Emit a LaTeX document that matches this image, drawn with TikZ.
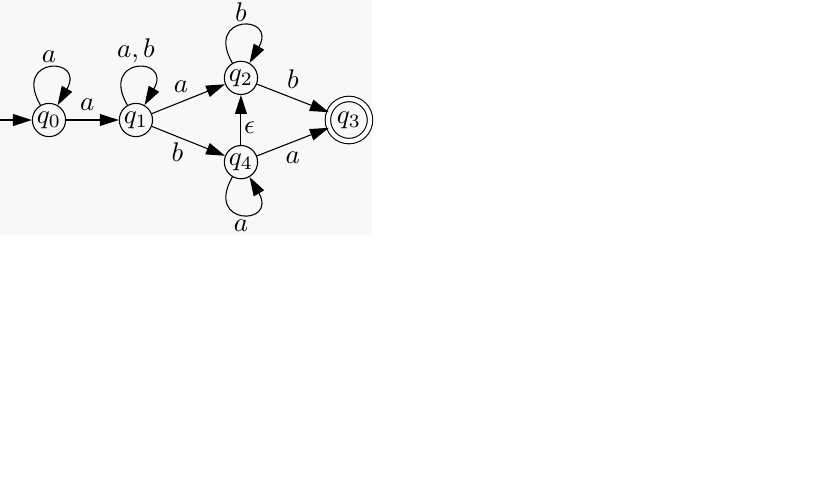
\documentclass[tikz,border=0pt]{standalone}
\usepackage{tikz}
\usetikzlibrary{arrows,arrows.meta,positioning,shapes,calc,backgrounds}
\usepackage{amsmath,amssymb}
\usepackage{xcolor}
\definecolor{panelgray}{HTML}{F8F8F8}

\begin{document}
\begin{tikzpicture}[x=0.3704pt,y=-0.3704pt,on grid,
    >={Triangle[length=7pt,width=4.4pt]},
    state/.style={draw,circle,minimum size=11.5pt,inner sep=0.5pt},
    accept/.style={draw,circle,double,double distance=1.6pt,minimum size=15.6pt,inner sep=0.5pt},
    selfloop/.style={looseness=1,min distance=21pt}]
    \fill[white] (0,0) rectangle (821,486);
    \fill[panelgray] (0,0) rectangle (372,235);
    \useasboundingbox (0,0) rectangle (821,486);
    \node[state] (q0) at (49,120) {$q_0$};
    \node[state,right=32.2pt of q0] (q1) {$q_1$};
    \node[state,above right=15.6pt and 38.9pt of q1] (q2) {$q_2$};
    \node[state,below right=15.6pt and 38.9pt of q1] (q4) {$q_4$};
    \node[accept,right=78.9pt of q1] (q3) {$q_3$};
    \coordinate (start) at (0,120);
    \draw[->] (start)--(q0);
    \draw[->] (q0) to[selfloop,out=120,in=60] node[above,inner sep=2pt] {$a$} (q0);
    \draw[->] (q0)-- node[pos=.4,above] {$a$} (q1);
    \draw[->] (q1) to[selfloop,out=120,in=60] node[above,inner sep=2pt] {$a,b$} (q1);
    \draw[->] (q1)-- node[pos=.4,above] {$a$} (q2);
    \draw[->] (q1)-- node[pos=.35,below,inner sep=2pt] {$b$} (q4);
    \draw[->] (q2) to[selfloop,out=120,in=60] node[above,inner sep=1.5pt] {$b$} (q2);
    \draw[->] (q2)-- node[above] {$b$} (q3);
    \draw[->] (q4)-- node[pos=.35,right,inner sep=1pt] {$\epsilon$} (q2);
    \draw[->] (q4) to[selfloop,out=-120,in=-60] node[below,inner sep=2pt] {$a$} (q4);
    \draw[->] (q4)-- node[below] {$a$} (q3);
  \end{tikzpicture}
\end{document}
